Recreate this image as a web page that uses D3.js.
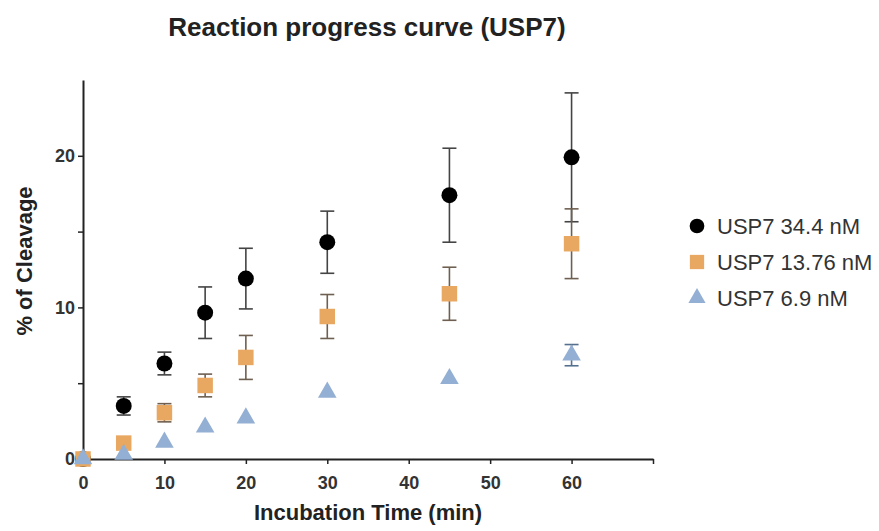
<!DOCTYPE html>
<html>
<head>
<meta charset="utf-8">
<script src="https://cdn.jsdelivr.net/npm/d3@7/dist/d3.min.js"></script>
<style>
  body { margin: 0; background: #fff; }
  svg { font-family: "Liberation Sans", Arial, sans-serif; }
</style>
</head>
<body>
<div id="chart"></div>
<script>
const times = [0, 5, 10, 15, 20, 30, 45, 60];

const seriesNames = ["USP7 34.4 nM", "USP7 13.76 nM", "USP7 6.9 nM"];
const high = [0, 3.5, 6.3, 9.65, 11.9, 14.3, 17.4, 19.9];
const highErr = [0, 0.6, 0.75, 1.7, 2.0, 2.05, 3.1, 4.25];
const mid = [0, 1.05, 3.05, 4.85, 6.7, 9.4, 10.9, 14.2];
const midErr = [0, 0, 0.6, 0.75, 1.45, 1.45, 1.75, 2.3];
const low = [0, 0.3, 1.1, 2.1, 2.7, 4.4, 5.3, 6.85];
const lowErr = [0, 0, 0, 0, 0, 0, 0, 0.7];

const xTicks = [0, 10, 20, 30, 40, 50, 60, 70];
const yTicks = [0, 5, 10, 15, 20];

const width = 879, height = 531;
const margin = { left: 83, top: 80, right: 226, bottom: 72 };

const svg = d3.select("#chart").append("svg")
  .attr("width", width)
  .attr("height", height);

const x = d3.scaleLinear().domain([0, 70]).range([margin.left, width - margin.right]);
const y = d3.scaleLinear().domain([0, 25]).range([height - margin.bottom, margin.top]);

// axes
const xAxis = svg.append("g")
  .attr("transform", `translate(0,${y(0)})`)
  .call(d3.axisBottom(x).tickValues(xTicks).tickSize(5).tickSizeOuter(0)
    .tickFormat(d => d === 70 ? "" : d));
const yAxis = svg.append("g")
  .attr("transform", `translate(${x(0)},0)`)
  .call(d3.axisLeft(y).tickValues(yTicks).tickSize(5).tickSizeOuter(0)
    .tickFormat(d => d % 10 === 0 ? d : ""));

[xAxis, yAxis].forEach(a => {
  a.select(".domain").attr("stroke", "#222").attr("stroke-width", 2);
  a.selectAll(".tick line").attr("stroke", "#222").attr("stroke-width", 1.5);
  a.selectAll(".tick text")
    .attr("fill", "#333")
    .attr("font-size", 18)
    .attr("font-weight", "bold");
});
xAxis.selectAll(".tick text").attr("y", 13).attr("dy", "0.95em");
yAxis.selectAll(".tick text").attr("x", -8);

// titles
svg.append("text")
  .attr("x", 367).attr("y", 36)
  .attr("text-anchor", "middle")
  .attr("font-size", 26).attr("font-weight", "bold").attr("fill", "#222")
  .text("Reaction progress curve (USP7)");

svg.append("text")
  .attr("x", 368).attr("y", 520)
  .attr("text-anchor", "middle")
  .attr("font-size", 22).attr("font-weight", "bold").attr("fill", "#222")
  .text("Incubation Time (min)");

svg.append("text")
  .attr("transform", `translate(32,261) rotate(-90)`)
  .attr("text-anchor", "middle")
  .attr("font-size", 22).attr("font-weight", "bold").attr("fill", "#222")
  .text("% of Cleavage");

// series
const series = [
  { name: seriesNames[0], vals: high, errs: highErr, fill: "#000000", bar: "#444444", shape: d3.symbolCircle, size: 200 },
  { name: seriesNames[1], vals: mid, errs: midErr, fill: "#E9A862", bar: "#6e5f50", shape: d3.symbolSquare, size: 240 },
  { name: seriesNames[2], vals: low, errs: lowErr, fill: "#93AFD3", bar: "#55708f", shape: d3.symbolTriangle, size: 150 }
];

const cap = 7;
series.forEach(s => {
  const g = svg.append("g");
  const pts = times.map((t, i) => ({ t, v: s.vals[i], e: s.errs[i] }));
  const eb = g.selectAll(".err").data(pts.filter(p => p.e > 0)).join("g");
  eb.append("line")
    .attr("x1", p => x(p.t)).attr("x2", p => x(p.t))
    .attr("y1", p => y(p.v - p.e)).attr("y2", p => y(p.v + p.e));
  eb.append("line")
    .attr("x1", p => x(p.t) - cap).attr("x2", p => x(p.t) + cap)
    .attr("y1", p => y(p.v + p.e)).attr("y2", p => y(p.v + p.e));
  eb.append("line")
    .attr("x1", p => x(p.t) - cap).attr("x2", p => x(p.t) + cap)
    .attr("y1", p => y(p.v - p.e)).attr("y2", p => y(p.v - p.e));
  eb.selectAll("line").attr("stroke", s.bar).attr("stroke-width", 1.6);
  g.selectAll(".pt").data(pts).join("path")
    .attr("transform", p => `translate(${x(p.t)},${y(p.v)})`)
    .attr("d", d3.symbol(s.shape, s.size))
    .attr("fill", s.fill);
});

// legend
const legend = svg.append("g").attr("transform", "translate(697,226)");
series.forEach((s, i) => {
  const row = legend.append("g").attr("transform", `translate(0,${i * 36})`);
  row.append("path")
    .attr("d", d3.symbol(s.shape, s.size * 0.85))
    .attr("fill", s.fill);
  row.append("text")
    .attr("x", 20).attr("y", 8)
    .attr("font-size", 22).attr("fill", "#333")
    .text(s.name);
});
</script>
</body>
</html>
